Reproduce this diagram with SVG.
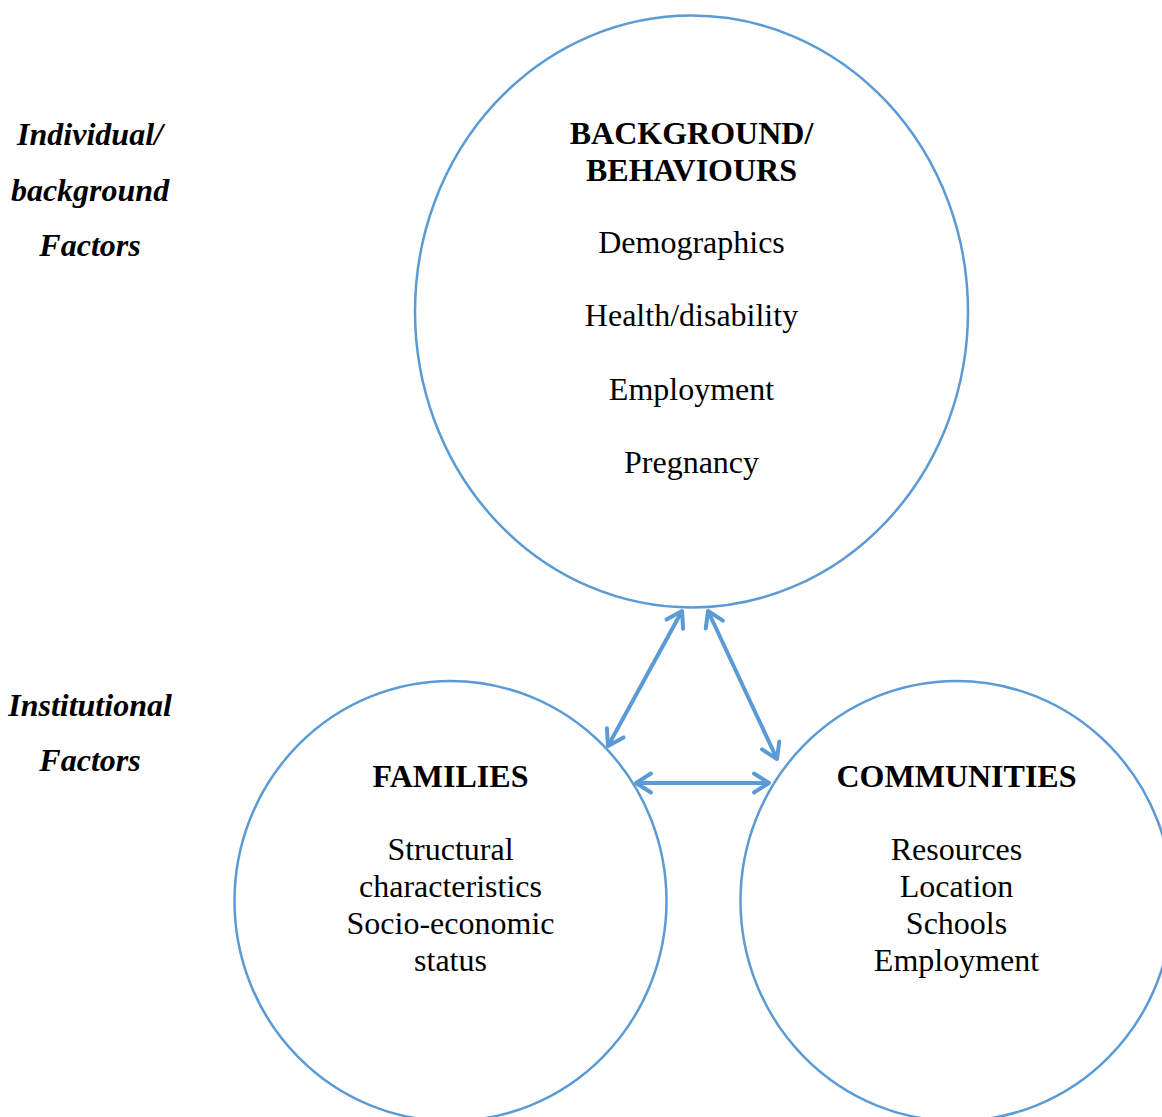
<svg xmlns="http://www.w3.org/2000/svg" width="1162" height="1117" viewBox="0 0 1162 1117">
  <style>
    .ring { fill: #ffffff; stroke: #5B9BD5; stroke-width: 2.5; }
    .head { font-family: "Liberation Serif", "Times New Roman", serif; font-size: 32px; font-weight: bold; fill: #000; text-anchor: middle; }
    .item { font-family: "Liberation Serif", "Times New Roman", serif; font-size: 32px; fill: #000; text-anchor: middle; }
    .side { font-family: "Liberation Serif", "Times New Roman", serif; font-size: 32px; font-weight: bold; font-style: italic; fill: #000; text-anchor: middle; }
    .link { fill: none; stroke: #5B9BD5; stroke-width: 4; marker-start: url(#chev); marker-end: url(#chev); }
  </style>
  <defs>
    <marker id="chev" markerUnits="userSpaceOnUse" markerWidth="40" markerHeight="40" viewBox="-20 -20 40 40" refX="0" refY="0" orient="auto-start-reverse" overflow="visible">
      <path d="M-15,-9.5 L0,0 L-15,9.5" fill="none" stroke="#5B9BD5" stroke-width="4" stroke-linecap="round" stroke-linejoin="round"/>
    </marker>
  </defs>
  <rect width="1162" height="1117" fill="#ffffff"/>

  <!-- level labels -->
  <g id="label-individual">
    <text class="side" x="90" y="145">Individual/</text>
    <text class="side" x="90" y="201">background</text>
    <text class="side" x="90" y="256">Factors</text>
  </g>
  <g id="label-institutional">
    <text class="side" x="90" y="716">Institutional</text>
    <text class="side" x="90" y="771">Factors</text>
  </g>

  <!-- individual level -->
  <g id="node-background">
    <ellipse class="ring" cx="691.5" cy="311.5" rx="276.5" ry="296"/>
    <text class="head" x="691.5" y="144">BACKGROUND/</text>
    <text class="head" x="691.5" y="181">BEHAVIOURS</text>
    <text class="item" x="691.5" y="253">Demographics</text>
    <text class="item" x="691.5" y="326">Health/disability</text>
    <text class="item" x="691.5" y="400">Employment</text>
    <text class="item" x="691.5" y="473">Pregnancy</text>
  </g>

  <!-- institutional level -->
  <g id="node-families">
    <ellipse class="ring" cx="450.5" cy="901" rx="216" ry="220"/>
    <text class="head" x="450.5" y="787">FAMILIES</text>
    <text class="item" x="450.5" y="860">Structural</text>
    <text class="item" x="450.5" y="897">characteristics</text>
    <text class="item" x="450.5" y="934">Socio-economic</text>
    <text class="item" x="450.5" y="971">status</text>
  </g>
  <g id="node-communities">
    <ellipse class="ring" cx="956.5" cy="901" rx="216" ry="220"/>
    <text class="head" x="956.5" y="787">COMMUNITIES</text>
    <text class="item" x="956.5" y="860">Resources</text>
    <text class="item" x="956.5" y="897">Location</text>
    <text class="item" x="956.5" y="934">Schools</text>
    <text class="item" x="956.5" y="971">Employment</text>
  </g>

  <!-- two-way links -->
  <g id="connectors">
    <line class="link" x1="682" y1="611" x2="608" y2="746"/>
    <line class="link" x1="708" y1="611" x2="777" y2="759"/>
    <line class="link" x1="636" y1="783" x2="769" y2="783"/>
  </g>
</svg>
